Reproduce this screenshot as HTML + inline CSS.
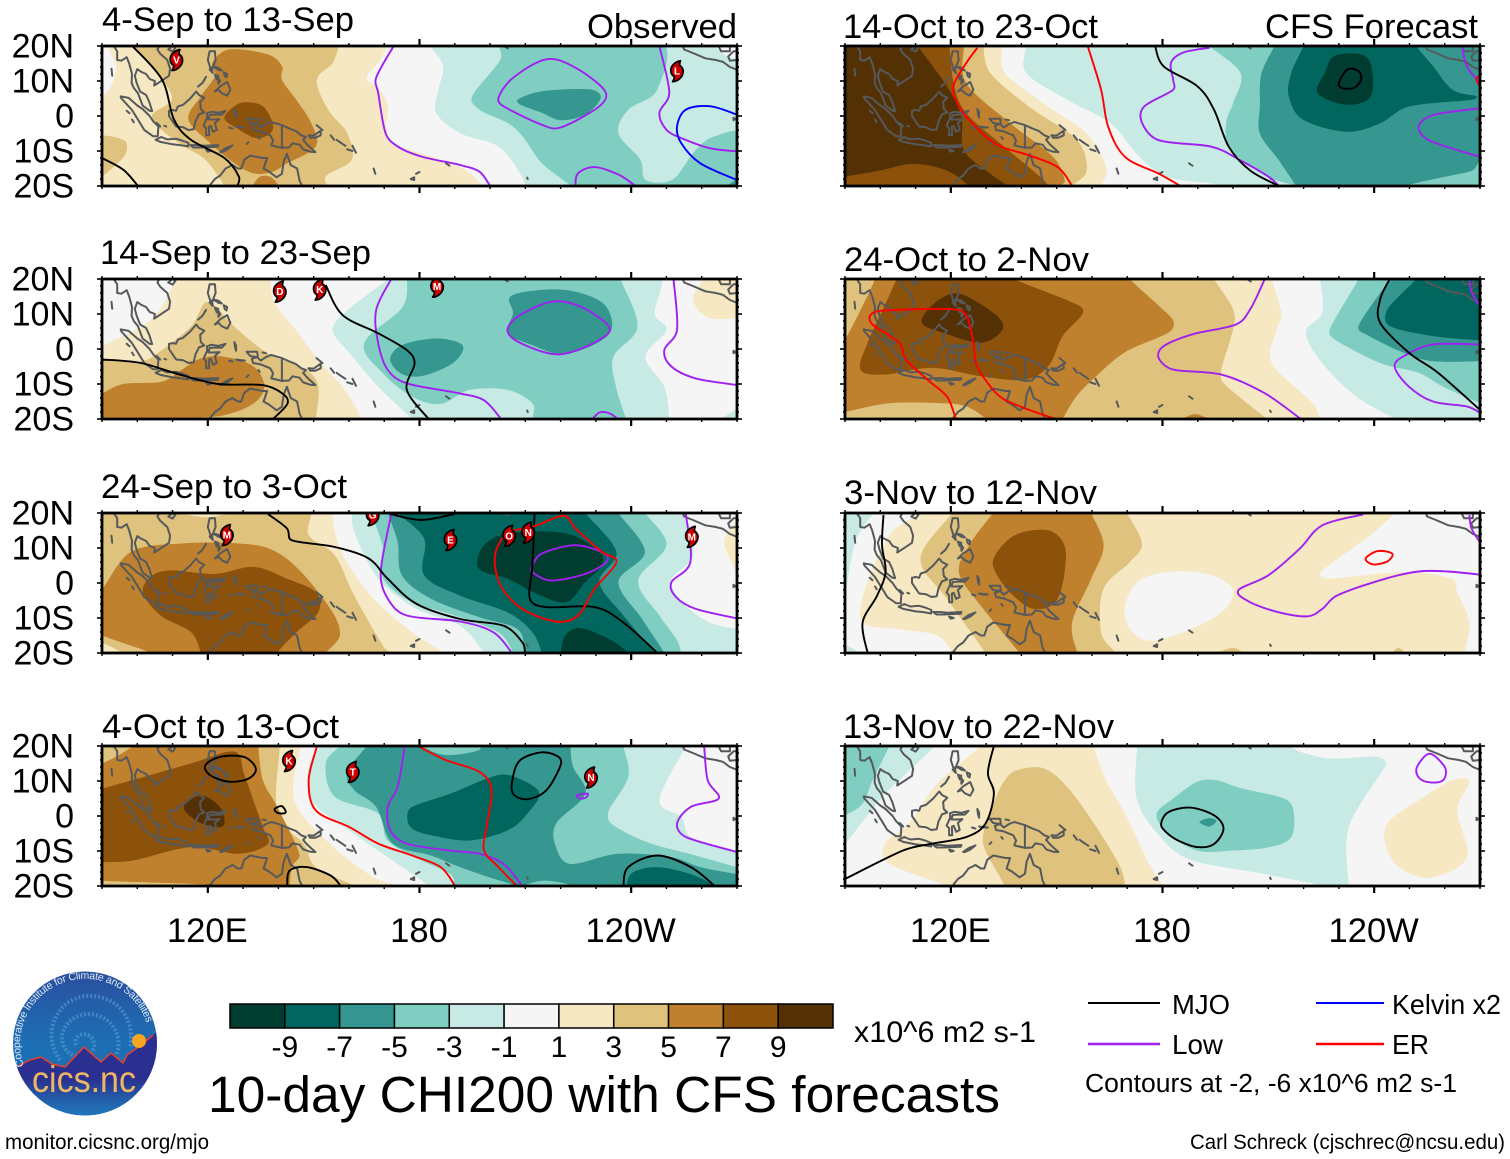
<!DOCTYPE html>
<html lang="en">
<head>
<meta charset="utf-8">
<title>10-day CHI200 with CFS forecasts</title>
<style>
html,body{margin:0;padding:0;background:#fff;width:1510px;height:1159px;overflow:hidden}
svg{display:block}
text{font-family:"Liberation Sans",sans-serif;fill:#000}
</style>
</head>
<body>
<svg id="figure" xmlns="http://www.w3.org/2000/svg" width="1510" height="1159" viewBox="0 0 1510 1159">
<rect x="0" y="0" width="1510" height="1159" fill="#fff"/>
<g id="panels"></g>

<g font-size="34.6">
<text x="102" y="31" textLength="252" lengthAdjust="spacingAndGlyphs">4-Sep to 13-Sep</text>
<text x="587" y="38" textLength="150" lengthAdjust="spacingAndGlyphs">Observed</text>
<text x="100" y="264" textLength="271" lengthAdjust="spacingAndGlyphs">14-Sep to 23-Sep</text>
<text x="101" y="498" textLength="246" lengthAdjust="spacingAndGlyphs">24-Sep to 3-Oct</text>
<text x="102" y="738" textLength="237" lengthAdjust="spacingAndGlyphs">4-Oct to 13-Oct</text>
<text x="843" y="38" textLength="255" lengthAdjust="spacingAndGlyphs">14-Oct to 23-Oct</text>
<text x="1265" y="38" textLength="213" lengthAdjust="spacingAndGlyphs">CFS Forecast</text>
<text x="844" y="271" textLength="245" lengthAdjust="spacingAndGlyphs">24-Oct to 2-Nov</text>
<text x="844" y="504" textLength="253" lengthAdjust="spacingAndGlyphs">3-Nov to 12-Nov</text>
<text x="843" y="738" textLength="271" lengthAdjust="spacingAndGlyphs">13-Nov to 22-Nov</text>
</g>

<g id="colorbar"></g>
<text x="854" y="1042" font-size="30" textLength="182" lengthAdjust="spacingAndGlyphs">x10^6 m2 s-1</text>
<text x="208" y="1112" font-size="51.4" textLength="792" lengthAdjust="spacingAndGlyphs">10-day CHI200 with CFS forecasts</text>

<g font-size="27.5">
<line x1="1088" y1="1003" x2="1160" y2="1003" stroke="#000" stroke-width="2"/>
<text x="1172" y="1014" textLength="58" lengthAdjust="spacingAndGlyphs">MJO</text>
<line x1="1316" y1="1003" x2="1384" y2="1003" stroke="#0000ff" stroke-width="2"/>
<text x="1392" y="1014" textLength="109" lengthAdjust="spacingAndGlyphs">Kelvin x2</text>
<line x1="1088" y1="1044" x2="1160" y2="1044" stroke="#a020f0" stroke-width="2.5"/>
<text x="1172" y="1054" textLength="51" lengthAdjust="spacingAndGlyphs">Low</text>
<line x1="1316" y1="1044" x2="1384" y2="1044" stroke="#ff0000" stroke-width="2.5"/>
<text x="1392" y="1054" textLength="37" lengthAdjust="spacingAndGlyphs">ER</text>
<text x="1085" y="1092" font-size="26.3" textLength="372" lengthAdjust="spacingAndGlyphs">Contours at -2, -6 x10^6 m2 s-1</text>
</g>

<text x="5" y="1149" font-size="21" textLength="204" lengthAdjust="spacingAndGlyphs">monitor.cicsnc.org/mjo</text>
<text x="1190" y="1149" font-size="21" textLength="315" lengthAdjust="spacingAndGlyphs">Carl Schreck (cjschrec@ncsu.edu)</text>

<g>
<defs>
<linearGradient id="logoSky" x1="0" y1="0" x2="0" y2="1">
<stop offset="0" stop-color="#2a4f9f"/><stop offset="0.5" stop-color="#1d6fb4"/><stop offset="1" stop-color="#1d6fb4"/>
</linearGradient>
<linearGradient id="logoGround" x1="0" y1="0" x2="0" y2="1">
<stop offset="0" stop-color="#2b2f8f"/><stop offset="0.55" stop-color="#2b2f8f"/><stop offset="0.8" stop-color="#2363ab"/><stop offset="1" stop-color="#1f7cc4"/>
</linearGradient>
<clipPath id="logoClip"><circle cx="85" cy="1043.5" r="72"/></clipPath>
<path id="logoArc" d="M24,1066 A65,65 0 1 1 150,1040"/>
</defs>
<circle cx="85" cy="1043.5" r="72" fill="url(#logoSky)"/>
<path d="M76,1045 C72,1034 88,1030 93,1040 C99,1054 80,1062 68,1052 C54,1038 66,1014 90,1014 C112,1016 124,1036 116,1056 M60,1060 C42,1036 54,1000 86,996 C116,994 136,1018 130,1048" fill="none" stroke="#5d9fd6" stroke-width="4" stroke-dasharray="2 2" opacity="0.6"/>
<g clip-path="url(#logoClip)">
<polygon points="10,1068 18,1066 30,1060 41,1057 52,1064 65,1067 84,1047 101,1062 111,1053 123,1063 127,1055 140,1046 153,1035 162,1028 162,1120 10,1120" fill="url(#logoGround)"/>
<polyline points="18,1066 30,1060 41,1057 52,1064 65,1067 84,1047 101,1062 111,1053 123,1063 127,1055 140,1046 153,1035" fill="none" stroke="#e8402a" stroke-width="1.5"/>
</g>
<circle cx="139" cy="1041" r="7" fill="#f5a623"/>
<text font-size="10.5" style="fill:#dce9f7" textLength="205" lengthAdjust="spacing"><textPath href="#logoArc">Cooperative Institute for Climate and Satellites</textPath></text>
<text x="32" y="1092" font-size="37" style="fill:#eeb765" textLength="104" lengthAdjust="spacingAndGlyphs">cics.nc</text>
</g>
</svg>

<script>
/* ---------- shared axis data ---------- */
const lonTicks = [120, 180, 240];
const lonTickLabels = ['120E', '180', '120W'];
const latTicks = [20, 10, 0, -10, -20];
const latTickLabels = ['20N', '10N', '0', '10S', '20S'];
const barLevels = [-10, -8, -6, -4, -2, 0, 2, 4, 6, 8, 10];
const barLabels = ['-9', '-7', '-5', '-3', '-1', '1', '3', '5', '7', '9'];
const bandColors = {'-10':'#003c30','-8':'#01665e','-6':'#35978f','-4':'#80cdc1','-2':'#c7eae5','0':'#f5f5f5','2':'#f6e8c3','4':'#dfc27d','6':'#bf812d','8':'#8c510a','10':'#543005'};
const contourColors = {MJO:'#000000', Low:'#a020f0', Kelvin:'#0000ff', ER:'#ff0000'};

/* ---------- coastlines (lon, lat) ---------- */
const coastlines = [
[93,20.5,94.3,18.5,94.3,16,95.5,15.8,97,16.8,97.7,15,98.5,12,98.4,9.5,99,8,100.2,6.5,101.5,3,103.5,1.5,104.2,1.4,103.4,4,102.5,6,100.8,7,99.8,9.5,99.3,11.5,100,13.4,101,12.7,102.5,12,103.5,10.6,105,10,104.8,8.7,106.5,9.8,109,11.5,109.3,13.5,108.5,16,106.5,17.8,105.7,19,106.5,20.5],
[108.8,19,110,18.4,110.8,19.5,110,20,108.8,19],
[95.3,5.6,97.5,5.2,100,3,101.5,2,103.5,0,104.5,-1.5,106,-3,105.8,-5.8,104.5,-5.8,102,-4,100.5,-1.5,98.5,1.7,95.5,5,95.3,5.6],
[105.2,-6.8,106.8,-6,108.5,-6.7,111,-6.5,112.7,-7,114.5,-7.7,114.4,-8.7,112,-8.3,110,-8.1,106.5,-7.4,105.2,-6.8],
[115,-8.3,117,-8.3,119,-8.5,121,-8.4,123,-8.3,122.8,-8.8,120,-8.9,118,-9,116,-9,115,-8.3],
[119.5,-9.6,120.8,-10,120,-10.2,119.5,-9.6],
[123.5,-10.3,125,-9.2,127,-8.4,125.5,-9.6,124,-10.3,123.5,-10.3],
[109,1.5,110,1.7,111,1.5,111.5,2.7,113,3.2,115,5,116.7,7,117.5,6,119,5.2,117.8,4,118,2,119,1,117.5,.5,116.5,-1.5,116,-3.8,114.5,-4,113,-3.2,111,-3,110,-1.5,109,0,109,1.5],
[119.8,.8,121,1.2,123,.9,125,1.5,124,.4,122,.4,120.5,.3,120.2,-1,121.5,-1,123.3,-.9,122,-2,122.5,-4,121.5,-4.5,120.8,-2.8,120.3,-3,120.4,-5.5,119.5,-5.5,119.5,-3.5,118.8,-2.7,119.8,-.5,119.8,.8],
[120.5,18.5,122,18.5,122.2,16,121.5,14.2,123,13.8,124,13,123,13.2,122,13.9,120.7,13.8,120,16,120.5,18.5],
[122,7,123.5,8.5,125.5,9.7,126.4,7.5,125.5,5.8,124,6.5,123,7.5,122,7],
[117.2,8.4,118.5,9.5,119.5,11.2],
[120.5,13.3,121.4,12.3,121.2,13.4,120.5,13.3],
[124.5,12.5,125.5,12,125.3,11,124.8,11.4,124.5,12.5],
[122,11.8,123,11.5,122.5,10.5,122,11.8],
[123,10.8,123,9.2,123.5,10,123,10.8],
[131,-.8,134,-.8,134.2,-2.5,135,-3.3,136.5,-2.3,138,-1.7,141,-2.6,143,-3.5,145,-4.3,146.5,-5.5,147.8,-6,147,-6.8,148,-8,150.5,-10.3,149,-10.2,147,-9.5,146,-8.2,144,-7.8,143,-9,141,-9.1,138,-8.4,138.5,-7,137.7,-5.5,135,-4.4,132.8,-4,132.5,-2.8,134,-2.3,132,-2,131,-.8],
[141,-2.6,141,-9.1],
[148.5,-5.5,150,-5.6,152,-4.2,152,-5.5,150.5,-6.2,149,-6.2,148.5,-5.5],
[150.8,-2.6,152.5,-4],
[154.8,-5.5,155.8,-6.8],
[156.5,-6.8,157.5,-7.5],
[157.5,-7.5,159,-8.5],
[159.5,-9.5,161,-10],
[161,-8.5,162,-10.5],
[167,-15,167.5,-16.5],
[177.5,-18,178.5,-17.5,178.5,-18.3,177.5,-18],
[179,-16.5,180,-16],
[187.5,-13.5,188.5,-14.2],
[210.5,-17.6,210.7,-18],
[204,20,205,19.3],
[269,-.5,269.5,-.9,269,-1.2,269,-.5],
[254.5,20.5,255,19,257.5,18,261,16.5,264,16,266,15.5,268,14,270,13.2],
[264.5,20.5,265.5,18.5,268,18.5,268,20,269,21],
[270,16,268,15.8,267.5,17,269,18.5,270,18.5],
[120,-20.5,122,-18,123.5,-17,125,-15,127,-14,128.5,-15,129.5,-15,130.3,-12.5,132,-11.3,135.5,-12,136.8,-12,135.8,-15,137.5,-16,139.5,-17.5,141,-16.5,141.5,-13,142.4,-10.8,143.5,-14,145.3,-15,146,-18.5,147,-20.5],
[127.5,2,128,1,128,-.5,127.7,.5,127.5,2],
[128,-3,130.5,-3.3,129,-3.3,128,-3],
[126,-3.3,127,-3.6],
[134.3,-6,134.7,-6.5],
[131.5,-7.5,131,-8],
[135.5,-1,136.5,-1.2],
[105.5,-2,106.5,-3],
[107.7,-2.8,108.2,-3],
[92.7,13.5,92.9,11.5],
[97,1.5,97.8,.8],
[98.5,-1,99,-1.8]
];

/* ---------- panel 1: 4-Sep to 13-Sep ---------- */
const p1Shading = [
[2,[93,22,94,13.3,91.4,6.6,88,5.5,88,-22,198,-22,197.6,-20,193,-15.4,183.3,-11.6,172.4,-7.8,170.4,-3.9,171,2.8,168.3,8,165,10.9,169,16.2,170,22]],
[4,[98.9,22,98.9,20,107,10.4,109.8,4.7,104.3,.4,106.3,-3.4,112.5,-8.2,119.3,-12.5,124.7,-20,125,-22,154,-22,153.4,-17.3,160.8,-12.5,159.5,-4.9,154.7,.9,151.3,7.6,151.3,11.4,155.7,15.7,155.7,22]],
[4,[88,-6.5,96,-6.8,96.8,-10.6,93.4,-14.4,90,-17.3,88,-18]],
[6,[126,19,137,17.6,141,14.3,141,10.4,145,4.7,149.3,-2,150.6,-8.7,142.5,-13.5,138.4,-15.9,133,-16.4,127.5,-13.5,120.7,-7.8,114.5,-1,118,5.6,122,11.4,121.3,15.2]],
[6,[133,-21,134.5,-17.5,138,-17.5,140,-21]],
[8,[130.9,3.9,135.6,2.8,138.4,-2,137.7,-4.9,133.6,-6.3,128.1,-3.4,124.7,-.6,127.5,2.8]],
[-2,[183,22,183,20,186.7,14.3,185.4,7.6,184.7,.9,191.5,-4.9,202.4,-8.7,208.5,-16.4,210,-20,210,-22,272,-22,272,22]],
[0,[263,22,263.7,20,266.4,17.6,270,16.2,272,16,272,22]],
[-4,[203,22,203,16.2,194.9,5.6,197,1.8,205,-2,209.2,-5.8,214.7,-13.5,222.8,-20,223,-22,272,-22,272,-5.5,263.7,-5.8,258.3,-9.7,252.8,-17.3,248.7,-19,243.8,-18,242.6,-12.5,236.4,-4.9,239.2,1.8,247.4,7.6,247.4,22]],
[-6,[207.8,4.7,214.7,7.1,228.3,7.6,231.4,5.2,227,.4,220,-1.2,214.7,.9,208.5,3.3]],
[-6,[265,-22,267,-20,272,-17.5,272,-22]]
];
const p1Contours = [
['Low',0,[172.7,20,167.7,10.9,168.3,6.6,170.4,-4.9,173.8,-8.7,180.6,-11.6,191.5,-14,197,-15.9,200,-20]],
['Low',1,[216,16.2,224.2,13.8,232.6,7.1,231,2.8,220,-3.3,214.7,-2.5,203.8,2.8,202.4,5.2,206.5,10.9]],
['Low',0,[224.2,-20,224.9,-16.4,229.6,-14.6,236.5,-16.8,241.2,-20]],
['Low',0,[248,20,250.8,6.6,248,.9,250,-3.9,254.2,-6.3,262.3,-9.2,270,-10.1]],
['MJO',0,[98.6,20,107,10.4,110.4,-1,115.2,-6.8,124.7,-12,128.8,-17.3,128.4,-20]],
['MJO',0,[90,-12,96.1,-15.4,100.2,-20]],
['Kelvin',0,[270,.4,262.3,2.8,255.5,1.8,253,-3,254.2,-7.8,259.6,-13.5,270,-18.3]]
];
const p1Storms = [[111.1,16,'V'],[253,12.8,'L']];

/* ---------- panel 2: 14-Sep to 23-Sep ---------- */
const p2Shading = [
[2,[88,-1,90,.7,104.3,8.8,111,20,111,22,137.7,22,137.7,20,139,13,145,5.4,150.6,-2.2,158.8,-11.7,163.6,-20,164,-22,88,-22]],
[2,[260.3,22,260.3,20,257.6,14,261.7,9,270,8.8,272,9,272,22]],
[4,[88,-3,90,-3,101,-3.5,105.7,-1.2,115.2,6.4,120,13.5,127.5,6.4,137,-1.2,147.9,-6,151.3,-10.8,150.6,-20,150,-22,88,-22]],
[6,[88,-13,90,-12.7,96,-10,107,-9.3,112.5,-6,118,-2.7,124.7,-2.2,133,-5,136,-10.8,133,-15.5,124.7,-18.9,112.5,-20,112,-22,88,-22]],
[-2,[171,22,171,20,159.5,11,155.4,5.4,160.2,-1.2,168.3,-10.8,177.8,-20,178,-22,250.8,-22,250.8,-20,249.4,-10.8,244,-2.2,250,5.4,246.7,10,246.7,22]],
[-2,[265,-22,265.8,-20,270,-17,272,-16,272,-22]],
[-4,[176.5,22,176.5,20,175.2,12,164.3,1.6,169.7,-7,177.9,-13.6,186,-15.7,194.2,-11.7,205,-11.7,212,-15.5,212,-20,212,-22,238.5,-22,238.5,-20,235.7,-10.8,235,-2.2,241.8,6.4,237,20,237,22]],
[-6,[171.7,-2.7,175,1.1,184.7,3,192.2,1.1,190,-3.6,183.3,-7,178,-7.9,174,-6.5]],
[-6,[205.8,15,214.7,16.9,224.2,16.4,232.5,12.6,234.4,5.4,228.3,.7,220,-1.4,212,1.1,205,4.5,206.5,10.2]]
];
const p2Contours = [
['Low',0,[172,20,167.7,11.1,168.3,1.6,171,-6,176.4,-9.8,191.4,-12.7,198.2,-14.6,203,-19.8]],
['Low',1,[217.4,13.5,225.6,12.1,233.7,6.4,231,2.6,220,-1.5,209.9,1.1,205,4.9,207.8,9.2]],
['Low',0,[229,-20,231.1,-18.1,233.9,-18.4,236.2,-20]],
['Low',0,[252,20,253,5.4,249.4,-.3,251.4,-5,258.3,-8.4,270,-10.3]],
['MJO',0,[153.4,18.3,158.2,9.7,168.3,4.5,176.4,-.3,178.6,-4.1,176.4,-11.7,182.6,-20]],
['MJO',0,[90,-3,101,-4,112,-7.3,123,-10,135.5,-10.3,141,-12.6,142.6,-15.5,138.5,-20]]
];
const p2Storms = [[140.4,16.4,'D'],[151.7,17,'K'],[185,17.8,'M']];

/* ---------- panel 3: 24-Sep to 3-Oct ---------- */
const p3Shading = [
[2,[88,22,155.4,22,155.4,20,156,14.6,158.8,7,167,-4.5,177.9,-14.1,186.7,-20,187,-22,88,-22]],
[2,[270,18,266.4,11.8,269,5,270,2,272,2,272,20]],
[4,[88,22,112.7,22,113,20,119.3,18.8,126,20,127,22,148,22,148.6,13.7,156,7.9,161.5,-3.6,169.7,-18,171.7,-20,172,-22,98,-22,96,-20,90,-17,88,-16]],
[6,[88,-1,90,-1.7,98.2,8.9,112.5,11.3,128.8,11.3,138.4,9.4,146.5,3.1,155.4,-8.4,157.4,-15.1,153.4,-20,153,-22,112,-22,100,-18.5,90,-15,88,-14]],
[8,[101.6,-2.6,104.3,2.2,109.8,3.6,122,2.6,133,4.6,142.4,1.2,150.6,-2.6,151.3,-8.4,145.2,-14,139.7,-20,140,-22,118,-22,118,-20,115.2,-14,106.6,-9.3]],
[-2,[160.8,22,160.8,20,161.5,14.6,168.3,1.2,179.2,-7.4,191.5,-12.2,198.3,-20,198.5,-22,272,-22,272,-14,270,-13.2,262.3,-11.3,255.5,-6.5,251.4,.7,257.6,8,254.8,20,254.8,22]],
[-4,[166.3,22,166.3,20,169.7,9.8,169.7,1.2,177.9,-5.5,190,-9.3,202.4,-14.1,206.5,-20,206.5,-22,254.2,-22,254.2,-20,252.8,-16,248,-9.3,242,.7,250,10.8,244,20,244,22]],
[-6,[171,22,171,20,173.8,11.8,175,2.2,183.3,-4.5,197,-9.8,207.8,-13.2,209.9,-20,210,-22,249.4,-22,249.4,-20,243.1,-10.3,236.4,.3,243.9,8.9,236.4,20,236.4,22]],
[-8,[173.8,22,173.8,20,181.3,12.7,181.3,2.2,191.5,-3.6,205,-8.4,212,-14.1,214.7,-20,215,-22,246.7,-22,246.7,-20,237.8,-9.3,231,.3,235.8,8.9,227,20,227,22]],
[-10,[196.3,5.5,198.3,10.8,205,14.2,221.3,14.2,231,8.9,231.7,5,227,.3,221.5,-5.5,213.3,-3.1,205,1.2,198.3,3.1]],
[-10,[219,-22,220,-20,221.3,-15,225.6,-12.9,233.7,-16,239.2,-20,240,-22]]
];
const p3Contours = [
['Low',0,[172,19.7,169,3.1,171,-4.5,176.4,-9.3,191.5,-11,201,-14.1,206.2,-20]],
['Low',1,[212,5,214.7,8.4,224.2,10.8,232.5,8.4,233,6,227,2.6,217.4,.7,212,3.1]],
['Low',0,[255.5,19.7,256.8,6,251.4,.2,252.8,-4.1,258.3,-7.4,270,-10.1]],
['MJO',0,[137,19.7,142.4,15.6,143.8,12.2,156,10.3,165.6,7,171,1.2,179.2,-6,191.5,-10.3,203.8,-12.2,209.2,-17,209.9,-20]],
['MJO',0,[171.7,19.7,180.5,18,190,19.7]],
['MJO',0,[212.6,19.7,212,5,211.3,-4.5,216,-6.9,229.6,-6.9,237.8,-11.3,247.4,-20]],
['ER',1,[205,14.2,212,16,220.8,19.2,224.2,15.6,231.7,8.9,235.8,6,229.6,-1.7,224.9,-9.3,218.7,-11,209.2,-7.4,203,-.7,201.4,7.9]]
];
const p3Storms = [[166.7,19.4,'G'],[125.4,13.7,'M'],[188.8,12.3,'E'],[205.4,13.5,'O'],[210.8,14.4,'N'],[257.2,13.2,'M']];

/* ---------- panel 4: 4-Oct to 13-Oct ---------- */
const p4Shading = [
[2,[88,22,146.3,22,146.3,20,144.5,4.5,154.7,-8,167,-17.5,173.8,-20,174,-22,88,-22]],
[4,[88,22,140.4,22,140.4,20,139.7,.7,147.2,-8,150.6,-14.6,161.5,-20,162,-22,88,-22]],
[6,[88,16,90,15,98.9,20,99,22,134.3,22,134.3,20,135.6,10.2,139.7,2.6,145.9,-10.8,143.8,-14.6,143.2,-20,143,-22,120.6,-22,120.6,-20,115.2,-19.4,90,-18.5,88,-18]],
[8,[88,7.6,90,7.8,115.2,15,127.5,18.4,130.2,12.2,132.9,4.5,135.6,-3.2,137,-8,128.8,-10.8,115.2,-8.9,98.9,-12.7,90,-13.2,88,-13.4]],
[10,[113.2,2.6,118,5.9,123.4,2.6,124.7,-2.2,122,-3.2,116.5,-1.2]],
[-2,[152,22,152,20,148.6,14.1,149.3,4.5,158.8,-3.2,171,-11.8,181.9,-19.4,183,-22,272,-22,272,-10.8,270,-10.3,256.9,-6,254.2,-.3,248,4.5,255.5,20,255.5,22]],
[-4,[157.4,22,157.4,20,153.4,15,156,5.5,168.3,.7,171,-7,180.6,-12.7,188.8,-16.6,190,-20,190,-22,272,-22,272,-15,270,-14.6,258.3,-11.3,244.6,-7.5,234.4,-2.2,233.7,1.6,239.2,11.2,237.8,20,237.8,22]],
[-6,[165,22,165,20,159.5,12.6,161.5,7.4,167.7,2.6,172.4,-7.9,183.3,-11.3,191.5,-14.6,199.7,-17.5,207.2,-20,207,-22,272,-22,272,-17,270,-16.6,259.6,-14.6,251.4,-11.8,236.4,-10.8,222.8,-13.7,218.7,-8.9,218.7,-2.2,227,6.4,223.5,14.1,222.8,20,222.8,22,197,22,197,18.9,187.5,17.4,180.6,20,180,22]],
[-4,[208,-21,214.7,-18.5,222,-19.5,224,-21]],
[-8,[176.5,-.3,177.9,2.6,188.8,6.4,202.4,11.7,209.2,10.2,214,6.4,210.6,.7,205,-4.1,194.2,-7,183.3,-5.5,177.9,-3.6]],
[-8,[238,-22,238.5,-20,240.5,-16.1,247.4,-14.6,256.9,-16.6,263.7,-20,264,-22]]
];
const p4Contours = [
['Low',0,[175.8,19.8,173.8,8.3,171,2.6,171.7,-4.1,176.4,-7.9,188.8,-9.9,197,-10.8,203.8,-13.7,209.2,-20]],
['Low',1,[224.6,5.9,227.6,6.4,227.2,5.3,225.6,5]],
['Low',0,[260.7,19.8,261.7,10.2,264.8,5,256.9,2.6,253,-2.2,255.5,-6,270,-10.3]],
['MJO',1,[119.3,14.5,123.4,16.9,130.2,16.9,133.6,13.6,131.6,10.7,126,9.8,120.6,11.7]],
['MJO',1,[139,2.1,141,2.8,142.1,1.1,141,.7,139.4,1.1]],
['MJO',0,[142.5,-20,143.2,-15.6,148,-14.6,154.8,-17,157.7,-20]],
['MJO',1,[206.5,11.2,208.6,16,214.7,18.2,219.4,16.9,220,14.5,216,7.4,210.6,4.8,206.5,6.4]],
['MJO',0,[237.8,-20,239.2,-14.6,247.4,-11.3,256.9,-14.6,263.7,-20]],
['ER',0,[150.9,19.8,148.6,10.2,150.6,1.6,160.2,-3.2,168.3,-7.9,177.9,-11.3,186,-14.6,190.1,-20]],
['ER',0,[179.9,19.8,187.4,16,197,12.6,200.4,7.4,199,-3.2,198.3,-9.9,202.4,-14.6,207.6,-20]]
];
const p4Storms = [[143,15.7,'K'],[161.1,12.6,'T'],[228.6,11,'N']];

/* ---------- panel 5: 14-Oct to 23-Oct ---------- */
const p5Shading = [
[2,[88,22,134.6,22,134.6,20,135.3,12.3,147.6,2.7,158.5,-5,164,-14.6,162.6,-20,162,-22,88,-22]],
[4,[88,22,129.2,22,129.2,20,131.2,12.3,142.1,2.7,155.8,-6.9,158.5,-15.6,154.4,-20,154,-22,88,-22]],
[6,[88,22,123.7,22,123.7,20,124.4,9.4,136.7,-1.9,149,-11.7,152.3,-18.5,150.3,-20,150,-22,88,-22]],
[8,[88,22,119.6,22,119.6,20,121,8.5,124.4,.8,135.3,-8.9,145.5,-17.5,147.6,-20,148,-22,88,-22]],
[10,[88,22,110.7,22,110.7,20,118.9,8.5,123,-.2,123.7,-9.8,131.2,-16.5,136,-20,136,-22,88,-22]],
[8,[88,-17.5,90,-17.3,99.8,-15.6,109.4,-13.7,118.9,-15.6,125,-20,125,-22,88,-22]],
[-2,[141.4,22,141.4,20,141.4,12.3,153,4.6,165.3,-2.1,173.5,-11.7,181.7,-17.5,194.6,-19.4,196.7,-20,197,-22,272,-22,272,22]],
[-4,[193.3,22,193.3,20,202.1,12.3,200,3.7,198,-2.1,199.4,-9.8,210.3,-17.5,217.8,-20,218,-22,272,-22,272,22]],
[-6,[211.7,22,211.7,20,208,12,207.6,2.7,207.6,-5,213,-12.7,217.8,-20,218,-22,249,-22,249,-20,259.4,-17.5,267.7,-15.6,270,-12.7,272,-12,272,22]],
[-8,[219.9,22,219.9,20,216.5,12.3,215.8,5.6,219.9,-1.1,232.2,-4.5,241.7,-2.1,249.9,2.7,267.6,4.6,269,5.6,262.2,7.5,256.7,14.2,252,20,252,22]],
[-10,[228.7,17.1,236.3,17.6,239.2,14.2,239,5.6,232.2,3.2,224,6.5,226,12.3]]
];
const p5Contours = [
['Low',0,[193.3,19.5,185.8,18.1,182.4,15.2,183,10.4,183,7.5,174.8,2.7,174.2,-1.9,178.9,-6.9,194,-8.8,202.1,-12.7,210.3,-17.5,213,-20]],
['Low',0,[264.9,20,266.3,14.2,270,9.4]],
['Low',0,[270,2.2,256.7,.3,252.6,-3,255.4,-6.9,270,-11.7]],
['MJO',0,[177.9,20,180.3,14.2,189.9,8.5,194.6,1.8,198.8,-8.8,204.9,-15.6,213,-20]],
['MJO',1,[230,9.4,232.4,13.3,235.6,12.8,236.3,10.4,234.2,8,230.8,8]],
['ER',0,[127.5,19.5,124.4,15.2,121,9.4,121,5.6,124.4,-.2,132.6,-7.9,142.1,-11.2,150.3,-14.6,154.4,-20]],
['ER',0,[158.8,20,162.6,7.5,164.6,-3.1,169.4,-11.7,179,-16.5,185.1,-20]],
['ER',0,[270,11.8,269,10.4,270,8.5]]
];
const p5Storms = [];

/* ---------- panel 6: 24-Oct to 2-Nov ---------- */
const p6Shading = [
[2,[88,22,210.9,22,210.9,20,213.7,10.4,212.4,5.6,211,-4,222.6,-15.5,224.6,-20,225,-22,88,-22]],
[4,[88,22,194.6,22,194.6,20,200,11.4,200,5.6,196.7,-5.9,197.3,-9.7,208.8,-19.3,210.3,-20,210,-22,88,-22]],
[6,[98.5,22,98.5,20,95,12.3,90.3,3.2,88,0,88,-18,90,-18,102.6,-15.5,117.6,-15.5,124.4,-16.4,130,-20,131,-22,151,-22,151.7,-20,155.7,-13.4,161.2,-7.8,169.4,-.9,181.7,4.7,183.1,8,179,12.3,170.8,20,171,22]],
[6,[185,-21,189.2,-18.6,194,-21]],
[8,[105,22,104.6,20,101.2,12.3,96.4,1.8,94.4,-5.9,101.2,-7.3,114.8,-5.4,128.5,-7.8,140.7,-8.8,147.6,-5,151.7,3.7,157.5,10.4,154.4,13.3,138,20,138,22]],
[10,[112.8,10.4,117.6,14.7,123,15.7,132.6,9.9,134.7,5.6,128.5,1.8,117.6,4.7,112.1,7]],
[-2,[224.7,22,224.7,20,225.3,10.4,220.6,4.7,225.3,-4,234.9,-13.6,245.8,-20,246,-22,272,-22,272,22]],
[-4,[235.6,22,235.6,20,227.4,5.6,228.9,2.7,241.7,-4,252.6,-6.8,259.4,-10.7,270,-15.5,272,-16,272,22]],
[-6,[244.4,22,244.4,20,235.6,6.6,238.6,3.7,248.5,-1.1,256.7,-3.5,270,-3.5,272,-3.5,272,22]],
[-8,[251.9,22,251.9,20,243.8,11.4,244.4,6.6,256.7,3.7,270,2.5,272,2.5,272,22]]
];
const p6Contours = [
['Low',0,[209,20,204.9,11.4,200.8,7,188.5,4.2,180.3,.8,178.9,-2.5,183,-5.9,196.7,-7.3,208.9,-12.6,219.2,-20]],
['Low',0,[267,20,267.6,16.2,270,12.1]],
['Low',0,[270,1.3,256.7,1.3,249.2,-1.6,245.8,-4.9,249.8,-10.7,256.7,-15,266.3,-16.4,270,-18.2]],
['MJO',0,[244.4,20,241.7,14.2,241.7,7.5,249.9,-1.1,258.1,-6.8,270,-17.4]],
['ER',0,[121.4,-20,118.9,-13.6,113.4,-8.8,107.3,-3,105.3,1.8,97.8,7,97.1,9.5,99.8,10.9,120.3,11.4,124.4,9.5,126.4,1.8,127.1,-4,129.8,-8.8,135.3,-14.5,149.6,-20]]
];
const p6Storms = [];

/* ---------- panel 7: 3-Nov to 12-Nov ---------- */
const p7Shading = [
[2,[110,22,110,19.4,102.6,13.7,95.7,-1.7,95,-11.3,105.3,-13.2,116.2,-15,120.3,-20,120.3,-22,265.6,-22,265.6,-20,267,-11.3,263.5,-2.6,262.2,1.2,248.6,3.1,226.8,1.2,224.8,3.1,239,13.7,245.8,20,245.8,22]],
[0,[169.4,-6.5,173.5,.7,183,3.3,193.9,2.2,200,-2.1,196.7,-8.4,185.8,-14.1,176.2,-16.5,170.8,-13.2]],
[4,[120.3,22,120.3,20,111.4,7,118.9,-4.5,129.8,-20,130,-22,166.7,-22,166.7,-20,162.6,-14.1,163.3,-1.6,170.8,6,174.2,11.3,170,20,170,22]],
[4,[194,-21,200,-18.5,203,-21]],
[4,[244.8,-21,246.9,-18.5,249,-21]],
[6,[131.9,22,131.9,20,125.8,11.7,122.3,3.1,128.5,-6.5,139.4,-20,139.4,-22,155.8,-22,155.8,-20,154.4,-11.3,159.8,1.2,163.3,10.8,159.8,20,159.8,22]],
[8,[142.1,14.9,148.9,14.6,152.6,8.9,150.3,-4.5,143.5,-7.4,136.7,-2.6,132.2,4.1,132.6,8,136.7,12.7]],
[-2,[88,22,98,22,98,20,93,12,90,-3,88,-5]],
[-2,[88,-17,90,-17.5,94,-20,94,-22,88,-22]]
];
const p7Contours = [
['Low',0,[236.9,19.6,225.3,16.5,218.9,9.8,210,2.2,201.5,-2.1,204.9,-5.5,213.1,-8.4,221.2,-9.5,225.3,-7.4,229.4,-3.6,243.1,1.2,252.6,3.3,260.8,3.3,270,2.4]],
['Low',0,[267,19.4,267.6,15.6,270,11.6]],
['MJO',0,[100.9,19.4,100.5,10.8,101.5,3.1,99.1,-3.6,95,-11.3,96.4,-20]],
['ER',1,[237.6,7,241,9.1,245.1,8.4,243.8,6.2,239.7,5.3]]
];
const p7Storms = [];

/* ---------- panel 8: 13-Nov to 22-Nov ---------- */
const p8Shading = [
[-2,[88,-9,90,-8,99.8,4.5,106.3,11.2,115.5,20,116,22,88,22]],
[-4,[88,0,90,.2,95,3.5,97.8,10.2,102.6,20,103,22,88,22]],
[2,[128.5,22,128.5,20,116.2,9.3,108,-2.2,101.2,-8,102.6,-13.7,118.9,-20,119,-22,180.3,-22,180.3,-20,176.2,-13.7,169.4,.7,163.9,10.4,160.5,20,160.5,22]],
[4,[135.3,10.2,138.8,13.1,146.3,13.6,153,8.3,161.3,-3.2,168.1,-14.7,169.4,-20,169.4,-22,135.3,-22,135.3,-20,129.8,-9.9,129.2,-5.1,132.5,4.5]],
[-2,[172.8,22,172.8,20,172.8,4.5,180.3,-7,188.5,-12.7,209,-16.6,225.3,-20,225.3,-22,232.8,-22,232.8,-20,232.8,-3.2,243,14,243,15.9,240.4,17,226.7,16.5,217,19.3,217,22]],
[-4,[178.3,.5,183,5,189.9,9.8,195.3,10.2,202,8,214.4,5,217.1,1.6,216.5,-6,210.3,-8.9,199.4,-9.9,189.9,-9.9,181.7,-5.1]],
[-6,[190.5,-1.7,193.2,-.6,195.3,-1.4,193.2,-3]],
[2,[243.7,-2.2,252.6,4.5,262.2,10.2,267,9.8,263.6,1.6,266.3,-11.8,256.7,-17.5,248.5,-15.6,243.7,-9.9]]
];
const p8Contours = [
['Low',1,[252,13.6,254.7,17.4,256.8,17.4,260.2,13.6,259.5,10.2,256,9.6,252.9,10.7]],
['MJO',0,[132.2,20,130.5,12.2,132.2,6.4,129.8,-2.2,124.4,-6,114.8,-7.9,106.6,-9.8,90,-18]],
['MJO',1,[179.6,-2.2,181.7,1.1,187.8,2.4,194.6,.2,197.3,-3.6,194.6,-8,189.9,-8.9,184.4,-7,181,-4.6]]
];
const p8Storms = [];

/* ---------- panel registry ---------- */
const panelShading = [p1Shading, p2Shading, p3Shading, p4Shading, p5Shading, p6Shading, p7Shading, p8Shading];
const panelContours = [p1Contours, p2Contours, p3Contours, p4Contours, p5Contours, p6Contours, p7Contours, p8Contours];
const panelStorms = [p1Storms, p2Storms, p3Storms, p4Storms, p5Storms, p6Storms, p7Storms, p8Storms];

/* ---------- drawing ---------- */
const NS = 'http://www.w3.org/2000/svg';
const panelWidth = 635, panelHeight = 140;
const columnLefts = [102, 845];
const rowTops = [46, 279, 513, 746];

function mk(tag, attrs, parent) {
  const el = document.createElementNS(NS, tag);
  for (const k in attrs) el.setAttribute(k, attrs[k]);
  if (parent) parent.appendChild(el);
  return el;
}

function pairs(flat) {
  const out = [];
  for (let i = 0; i < flat.length; i += 2) out.push([flat[i], flat[i + 1]]);
  return out;
}

function smoothPath(pts, closed) {
  const n = pts.length;
  const at = i => closed ? pts[(i + n) % n] : pts[Math.max(0, Math.min(n - 1, i))];
  let d = 'M' + pts[0][0].toFixed(1) + ',' + pts[0][1].toFixed(1);
  const last = closed ? n : n - 1;
  for (let i = 0; i < last; i++) {
    const p0 = at(i - 1), p1 = at(i), p2 = at(i + 1), p3 = at(i + 2);
    const len = Math.hypot(p2[0] - p1[0], p2[1] - p1[1]);
    let t1 = [(p2[0] - p0[0]) / 6, (p2[1] - p0[1]) / 6];
    let t2 = [(p3[0] - p1[0]) / 6, (p3[1] - p1[1]) / 6];
    const m1 = Math.hypot(t1[0], t1[1]), m2 = Math.hypot(t2[0], t2[1]);
    const s1 = m1 > 0.42 * len ? 0.42 * len / m1 : 1;
    const s2 = m2 > 0.42 * len ? 0.42 * len / m2 : 1;
    d += 'C' + (p1[0] + t1[0] * s1).toFixed(1) + ',' + (p1[1] + t1[1] * s1).toFixed(1) +
         ' ' + (p2[0] - t2[0] * s2).toFixed(1) + ',' + (p2[1] - t2[1] * s2).toFixed(1) +
         ' ' + p2[0].toFixed(1) + ',' + p2[1].toFixed(1);
  }
  return d + (closed ? 'Z' : '');
}

const panelsRoot = document.getElementById('panels');
const contourClip = document.createElementNS(NS, 'defs');
panelsRoot.appendChild(contourClip);

for (let idx = 0; idx < 8; idx++) {
  const col = idx < 4 ? 0 : 1;
  const row = idx % 4;
  const left = columnLefts[col], top = rowTops[row];
  const xOf = lon => left + (lon - 90) * panelWidth / 180;
  const yOf = lat => top + (20 - lat) * panelHeight / 40;
  const toPx = flat => pairs(flat).map(p => [xOf(p[0]), yOf(p[1])]);

  const panel = mk('g', {}, panelsRoot);
  
  

  const clip = mk('clipPath', {id: 'plotClip' + idx}, contourClip);
  mk('rect', {x: left, y: top, width: panelWidth, height: panelHeight}, clip);

  const plot = mk('g', {'clip-path': 'url(#plotClip' + idx + ')'}, panel);
  
  

  const base = mk('rect', {x: left, y: top, width: panelWidth, height: panelHeight, fill: bandColors['0']}, plot);
  
  

  panelShading[idx].forEach(function (band) {
    const shape = mk('path', {d: smoothPath(toPx(band[1]), true), fill: bandColors[band[0]]}, plot);
    
    
  });

  coastlines.forEach(function (flat) {
    const points = toPx(flat).map(p => p[0].toFixed(1) + ',' + p[1].toFixed(1)).join(' ');
    const coast = mk('polyline', {points: points, fill: 'none', stroke: '#55595c', 'stroke-width': 2, 'stroke-linejoin': 'round', 'stroke-linecap': 'round'}, plot);
    
    
  });

  panelContours[idx].forEach(function (c) {
    const line = mk('path', {d: smoothPath(toPx(c[2]), !!c[1]), fill: 'none', stroke: contourColors[c[0]], 'stroke-width': 1.9}, plot);
    
    
  });

  panelStorms[idx].forEach(function (s) {
    const g = mk('g', {transform: 'translate(' + xOf(s[0]).toFixed(1) + ',' + yOf(s[1]).toFixed(1) + ')'}, plot);
    
    
    mk('path', {d: 'M3.5,-10.5 C-1,-9.5 -6,-6.5 -6.2,-1 C-6.2,2.5 -4.5,4.5 -2.6,5.5 C-2.6,7.5 -3.5,9 -4.5,10.5 C1,10.5 6.2,5.5 6.2,0 C6.2,-3 4,-5 2.6,-6 C2.6,-8 3,-9 3.5,-10.5Z', fill: '#cc0000', stroke: '#000', 'stroke-width': 1.7, 'stroke-linejoin': 'round'}, g);
    const letter = mk('text', {x: 0, y: 3.5, 'text-anchor': 'middle', 'font-size': 10, 'font-weight': 'bold', style: 'fill:#fff'}, g);
    letter.textContent = s[2];
  });

  /* ticks */
  const ticks = mk('g', {stroke: '#000', 'stroke-width': 1.6}, panel);
  
  
  for (let lon = 90; lon <= 270; lon += 10) {
    const len = lonTicks.indexOf(lon) >= 0 ? 7 : 3;
    const sw = lonTicks.indexOf(lon) >= 0 ? 2.2 : 1.4;
    mk('line', {x1: xOf(lon), x2: xOf(lon), y1: top, y2: top - len, 'stroke-width': sw}, ticks);
    mk('line', {x1: xOf(lon), x2: xOf(lon), y1: top + panelHeight, y2: top + panelHeight + len, 'stroke-width': sw}, ticks);
  }
  for (let lat = -20; lat <= 20; lat += 2) {
    const len = lat % 10 === 0 ? 5 : 2;
    mk('line', {x1: left, x2: left - len, y1: yOf(lat), y2: yOf(lat)}, ticks);
    mk('line', {x1: left + panelWidth, x2: left + panelWidth + len, y1: yOf(lat), y2: yOf(lat)}, ticks);
  }

  const frame = mk('rect', {x: left, y: top, width: panelWidth, height: panelHeight, fill: 'none', stroke: '#000', 'stroke-width': 2.8}, panel);
  
  

  /* latitude labels: left column only */
  if (col === 0) {
    latTicks.forEach(function (lat, i) {
      const t = mk('text', {x: 74, y: yOf(lat) + 11.5, 'text-anchor': 'end', 'font-size': 34}, panel);
      
      
      t.textContent = latTickLabels[i];
    });
  }
  /* longitude labels: bottom row only */
  if (row === 3) {
    lonTicks.forEach(function (lon, i) {
      const t = mk('text', {x: xOf(lon) - 0.5, y: 942, 'text-anchor': 'middle', 'font-size': 34.6}, panel);
      
      
      t.textContent = lonTickLabels[i];
    });
  }
}

/* ---------- colour bar ---------- */
const barRoot = document.getElementById('colorbar');
const barLeft = 230, barRight = 833, barTop = 1004, barBottom = 1028;
const barStep = (barRight - barLeft) / barLevels.length;
barLevels.forEach(function (v, i) {
  const cell = mk('rect', {x: barLeft + i * barStep, y: barTop, width: barStep, height: barBottom - barTop, fill: bandColors[v], stroke: '#000', 'stroke-width': 1.5}, barRoot);
  
  
});
barLabels.forEach(function (label, i) {
  const t = mk('text', {x: barLeft + (i + 1) * barStep, y: 1057, 'text-anchor': 'middle', 'font-size': 30}, barRoot);
  
  
  t.textContent = label;
});
</script>
</body>
</html>
